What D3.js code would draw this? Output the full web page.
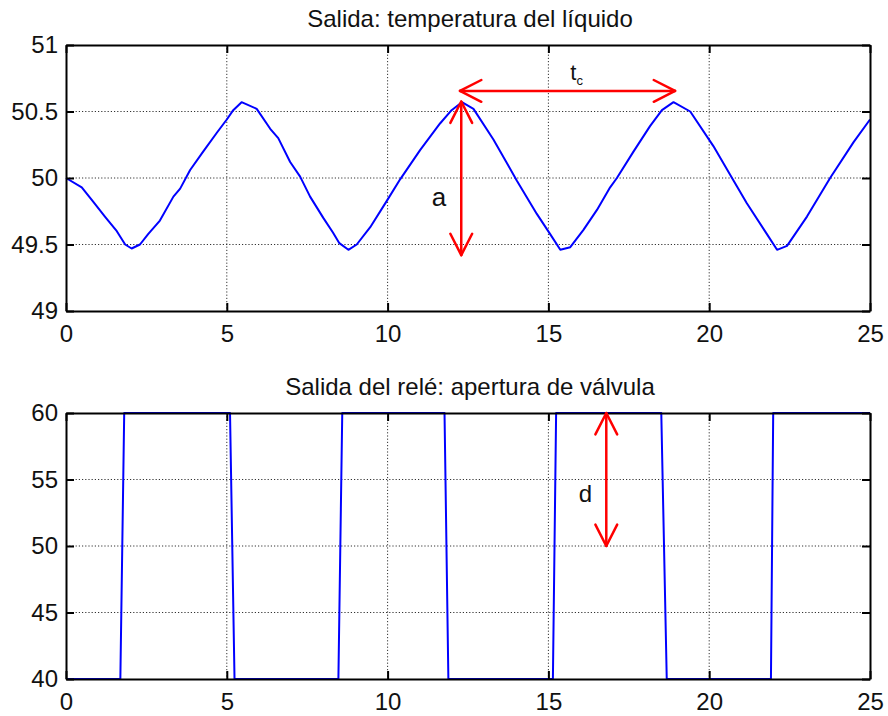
<!DOCTYPE html>
<html>
<head>
<meta charset="utf-8">
<script src="https://cdn.jsdelivr.net/npm/d3@7"></script>
<style>
  html, body { margin: 0; padding: 0; background: #fff; }
  svg { display: block; font-family: "Liberation Sans", Arial, sans-serif; }
</style>
</head>
<body>
<svg id="chart" width="888" height="716"></svg>
<script>
// ---------- DATA ----------
const titleTop = "Salida: temperatura del líquido";
const titleBottom = "Salida del relé: apertura de válvula";

const xTicks = [0, 5, 10, 15, 20, 25];
const yTicksTop = [49, 49.5, 50, 50.5, 51];
const yTicksBottom = [40, 45, 50, 55, 60];

// Liquid temperature (time, value)
const tempTime = [0.0, 0.49, 0.85, 1.21, 1.58, 1.84, 2.04, 2.30, 2.56, 2.92, 3.34, 3.55, 3.86, 4.27, 4.69, 5.0, 5.2, 5.46,
  5.93, 6.35, 6.6, 6.97, 7.28, 7.59, 8.0, 8.3, 8.5, 8.78, 9.04, 9.46, 9.98, 10.39, 11.01, 11.63, 11.99, 12.31,
  12.67, 13.29, 14.02, 14.64, 15.05, 15.37, 15.68, 16.09, 16.51, 16.92, 17.13, 17.65, 18.16, 18.53, 18.89,
  19.41, 20.13, 20.71, 21.17, 21.79, 22.11, 22.42, 23.04, 23.76, 24.49, 25.0];
const tempValue = [50.0, 49.93, 49.82, 49.71, 49.60, 49.50, 49.47, 49.50, 49.58, 49.68, 49.86, 49.92, 50.06, 50.20, 50.34, 50.44, 50.51, 50.57,
  50.52, 50.37, 50.30, 50.12, 50.01, 49.86, 49.70, 49.59, 49.51, 49.46, 49.50, 49.63, 49.83, 49.99, 50.21, 50.41, 50.51, 50.57,
  50.52, 50.29, 49.98, 49.73, 49.58, 49.46, 49.48, 49.61, 49.76, 49.93, 50.0, 50.20, 50.39, 50.51, 50.57,
  50.50, 50.24, 50.0, 49.81, 49.58, 49.46, 49.49, 49.71, 50.0, 50.27, 50.44];

// Relay output / valve opening (time, value)
const relayTime = [0, 1.69, 1.81, 5.10, 5.24, 8.47, 8.59, 11.77, 11.89, 15.14, 15.24, 18.51, 18.68, 21.92, 21.99, 25];
const relayValue = [40, 40, 60, 60, 40, 40, 60, 60, 40, 40, 60, 60, 40, 40, 60, 60];

// Annotations
const annTc = { t0: 12.25, t1: 18.94, v: 50.655, label: "t", sub: "c", lt: 15.68, lv: 50.74 };
const annA = { t: 12.29, v0: 50.575, v1: 49.42, label: "a", lt: 11.6, lv: 49.79 };
const annD = { t: 16.8, v0: 60, v1: 50, label: "d", lt: 16.15, lv: 53.3 };

// ---------- DRAW ----------
const svg = d3.select("#chart");
const left = 66, right = 870;

function panel(cfg) {
  const x = d3.scaleLinear().domain([0, 25]).range([left, right]);
  const y = d3.scaleLinear().domain(cfg.yDomain).range([cfg.bottom, cfg.top]);
  const g = svg.append("g");

  // grid
  g.append("g").selectAll("line").data(xTicks.filter(d => d > 0 && d < 25)).join("line")
    .attr("x1", d => x(d)).attr("x2", d => x(d)).attr("y1", cfg.top).attr("y2", cfg.bottom)
    .attr("stroke", "#333").attr("stroke-width", 1).attr("stroke-dasharray", "1.2,2");
  g.append("g").selectAll("line").data(cfg.yTicks.slice(1, -1)).join("line")
    .attr("y1", d => y(d)).attr("y2", d => y(d)).attr("x1", left).attr("x2", right)
    .attr("stroke", "#333").attr("stroke-width", 1).attr("stroke-dasharray", "1.2,2");

  // series
  g.append("path").datum(cfg.times.map((t, i) => [t, cfg.values[i]]))
    .attr("fill", "none").attr("stroke", "#0000ff").attr("stroke-width", 2)
    .attr("stroke-linejoin", "round")
    .attr("d", d3.line().x(d => x(d[0])).y(d => y(d[1])));

  // axes (inside ticks, MATLAB style, mirrored)
  const tk = 8;
  const axB = d3.axisBottom(x).tickValues(xTicks).tickSizeInner(-tk).tickSizeOuter(0).tickPadding(14).tickFormat(d3.format("d"));
  const axT = d3.axisTop(x).tickValues(xTicks).tickSizeInner(-tk).tickSizeOuter(0).tickFormat("");
  const axL = d3.axisLeft(y).tickValues(cfg.yTicks).tickSizeInner(-tk).tickSizeOuter(0).tickPadding(8).tickFormat(d => String(d));
  const axR = d3.axisRight(y).tickValues(cfg.yTicks).tickSizeInner(-tk).tickSizeOuter(0).tickFormat("");

  const styleAxis = sel => {
    sel.select(".domain").attr("stroke", "#000").attr("stroke-width", 2);
    sel.selectAll(".tick line").attr("stroke", "#000").attr("stroke-width", 2);
    sel.selectAll(".tick text").attr("fill", "#111").style("font-size", "24px")
      .style("font-family", "'Liberation Sans', Arial, sans-serif");
  };
  g.append("g").attr("transform", `translate(0,${cfg.bottom})`).call(axB).call(styleAxis);
  g.append("g").attr("transform", `translate(0,${cfg.top})`).call(axT).call(styleAxis);
  g.append("g").attr("transform", `translate(${left},0)`).call(axL).call(styleAxis);
  g.append("g").attr("transform", `translate(${right},0)`).call(axR).call(styleAxis);

  // title
  g.append("text").attr("x", (left + right) / 2 + 2).attr("y", cfg.top - 18)
    .attr("text-anchor", "middle").attr("fill", "#111").style("font-size", "24px")
    .text(cfg.title);

  return { x, y, g };
}

const P1 = panel({ top: 45, bottom: 311, yDomain: [49, 51], yTicks: yTicksTop,
  times: tempTime, values: tempValue, title: titleTop });
const P2 = panel({ top: 413, bottom: 679, yDomain: [40, 60], yTicks: yTicksBottom,
  times: relayTime, values: relayValue, title: titleBottom });

// arrows
function arrow(g, x1, y1, x2, y2) {
  const red = "#ff0000", sw = 2.5, len = 24, ang = 27 * Math.PI / 180;
  g.append("line").attr("x1", x1).attr("y1", y1).attr("x2", x2).attr("y2", y2)
    .attr("stroke", red).attr("stroke-width", sw);
  [[x1, y1, x2, y2], [x2, y2, x1, y1]].forEach(([ax, ay, bx, by]) => {
    const th = Math.atan2(by - ay, bx - ax);
    [ang, -ang].forEach(a => {
      g.append("line").attr("x1", ax).attr("y1", ay)
        .attr("x2", ax + len * Math.cos(th + a)).attr("y2", ay + len * Math.sin(th + a))
        .attr("stroke", red).attr("stroke-width", sw).attr("stroke-linecap", "round");
    });
  });
}

arrow(P1.g, P1.x(annTc.t0), P1.y(annTc.v), P1.x(annTc.t1), P1.y(annTc.v));
arrow(P1.g, P1.x(annA.t), P1.y(annA.v0), P1.x(annA.t), P1.y(annA.v1));
arrow(P2.g, P2.x(annD.t), P2.y(annD.v0), P2.x(annD.t), P2.y(annD.v1));

const tcText = P1.g.append("text").attr("x", P1.x(annTc.lt)).attr("y", P1.y(annTc.lv))
  .attr("fill", "#111").style("font-size", "22px");
tcText.append("tspan").text(annTc.label);
tcText.append("tspan").attr("dy", 5).style("font-size", "13px").text(annTc.sub);

P1.g.append("text").attr("x", P1.x(annA.lt)).attr("y", P1.y(annA.lv)).attr("text-anchor", "middle")
  .attr("fill", "#111").style("font-size", "26px").text(annA.label);
P2.g.append("text").attr("x", P2.x(annD.lt)).attr("y", P2.y(annD.lv)).attr("text-anchor", "middle")
  .attr("fill", "#111").style("font-size", "24px").text(annD.label);
</script>
</body>
</html>
